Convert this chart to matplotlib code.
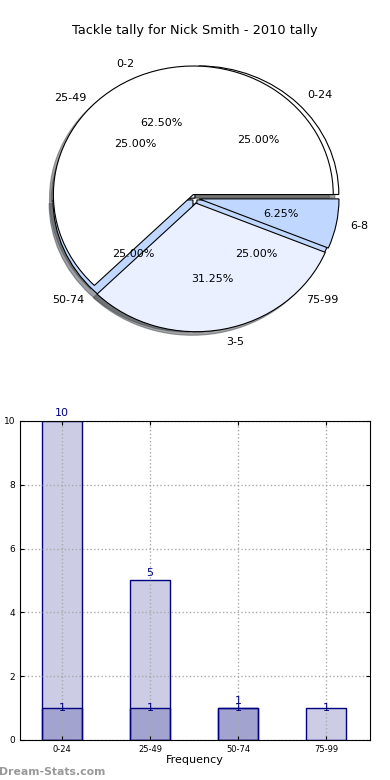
import numpy as np
import matplotlib
matplotlib.use('Agg')
import matplotlib.pyplot as plt

# data
interval_labels = ['0-24', '25-49', '50-74', '75-99']
interval_counts = [1, 1, 1, 1]
tackle_labels = ['0-2', '3-5', '6-8']
tackle_counts = [10, 5, 1]

navy = '#000080'

fig = plt.figure(figsize=(3.9, 7.8), dpi=100)
fig.text(0.5, 0.961, 'Tackle tally for Nick Smith - 2010 tally', ha='center', va='center', fontsize=9.3)

# pie chart: both tallies drawn on the same axes
ax1 = fig.add_axes([0.0513, 0.54, 0.897, 0.412])
ax1.pie(interval_counts, labels=interval_labels, autopct='%1.2f%%',
        colors=['white', '#EAF0FF', '#C0D8FF', '#C0D8FF'],
        explode=[0.04, 0.0, 0.02, 0.02], shadow=True,
        wedgeprops={'edgecolor': 'black', 'linewidth': 0.8},
        textprops={'fontsize': 8})
ax1.pie(tackle_counts, labels=tackle_labels, autopct='%1.2f%%',
        colors=['white', '#EAF0FF', '#C0D8FF'],
        explode=[0.03, 0.04, 0.03], shadow=True,
        wedgeprops={'edgecolor': 'black', 'linewidth': 0.8},
        textprops={'fontsize': 8})
ax1.set_aspect('auto')
ax1.set_xlim(-1.25, 1.25)
ax1.set_ylim(-1.25, 1.25)

# bar chart
ax2 = fig.add_axes([0.0513, 0.0513, 0.897, 0.409])
x_tackle = np.arange(len(tackle_counts))
x_interval = np.arange(len(interval_counts))
w = 0.45
ax2.bar(x_tackle, tackle_counts, w, color=navy, alpha=0.2)
ax2.bar(x_tackle, tackle_counts, w, facecolor='none', edgecolor=navy, linewidth=1)
ax2.bar(x_interval, interval_counts, w, color=navy, alpha=0.2)
ax2.bar(x_interval, interval_counts, w, facecolor='none', edgecolor=navy, linewidth=1)

for xi, h in zip(x_tackle, tackle_counts):
    if h > 0:
        ax2.text(xi, h + 0.08, str(h), ha='center', va='bottom', color=navy, fontsize=8)
for xi, h in zip(x_interval, interval_counts):
    if h > 0:
        ax2.text(xi, h, str(h), ha='center', va='center', color=navy, fontsize=8)

ax2.set_xlim(-0.48, 3.5)
ax2.set_ylim(0, 10)
ax2.set_xticks(x_interval)
ax2.set_xticklabels(interval_labels, fontsize=6)
ax2.set_yticks([0, 2, 4, 6, 8, 10])
ax2.tick_params(axis='y', labelsize=6.5)
ax2.tick_params(direction='in', top=True, right=True, length=3)
ax2.grid(True, linestyle=':', color='#aaaaaa', linewidth=1)
ax2.set_axisbelow(False)
for sp in ax2.spines.values():
    sp.set_zorder(4)
ax2.set_xlabel('Frequency', fontsize=8, labelpad=1)
ax2.set_ylabel('Stat Interval', fontsize=8)
ax2.yaxis.set_label_coords(-0.049, 0.5)

fig.text(-0.003, 0.004, 'Dream-Stats.com', color='#999999', fontsize=7.8,
         fontweight='bold', ha='left', va='bottom')

plt.savefig('out.png', dpi=100)
